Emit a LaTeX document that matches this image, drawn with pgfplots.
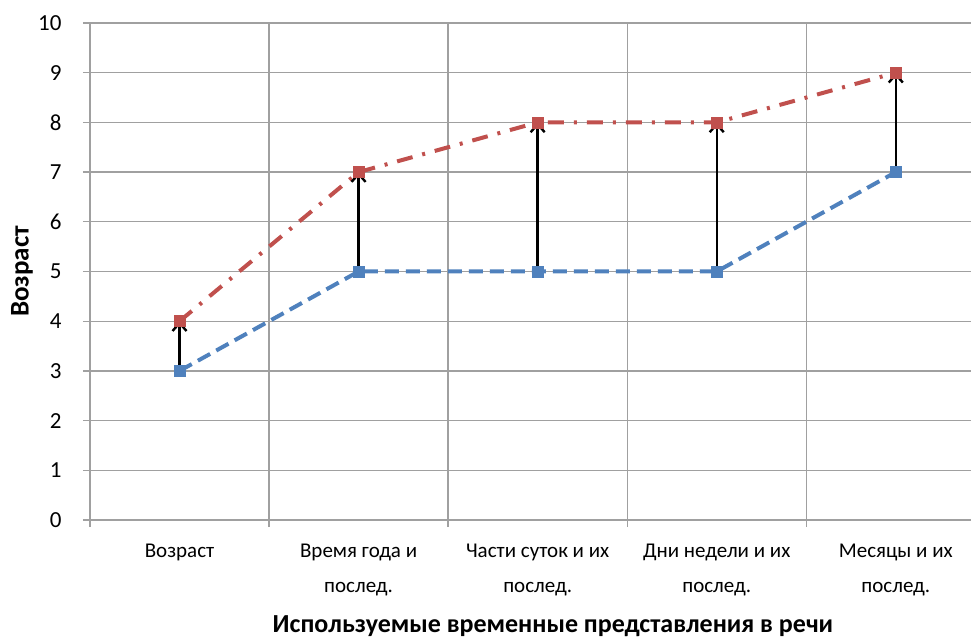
\documentclass[border=0pt]{standalone}
\usepackage{fontspec}
\setmainfont{Carlito}
\usepackage{pgfplots}
\pgfplotsset{compat=1.18}
\usetikzlibrary{arrows.meta}
\definecolor{xlblue}{RGB}{79,129,189}
\definecolor{xlred}{RGB}{192,80,77}
\definecolor{gridgray}{RGB}{160,160,160}

\pgfplotstableread{
x lo hi d
0 3 4 1
1 5 7 2
2 5 8 3
3 5 8 3
4 7 9 2
}\agedata

\begin{document}
\begin{tikzpicture}[x=1pt,y=1pt]
\path[use as bounding box] (0,0) rectangle (971,637);
\begin{axis}[
  at={(90pt,117pt)}, anchor=south west,
  scale only axis, width=881pt, height=497pt,
  xmin=-0.5, xmax=4.42,
  ymin=0, ymax=10,
  axis x line*=bottom, axis y line*=left,
  axis line style={gridgray, line width=1.3pt, -},
  % X
  xtick={0,1,2,3,4},
  xticklabels={{Возраст\\\vphantom{п}}, {Время года и\\послед.}, {Части суток и их\\послед.}, {Дни недели и их\\послед.}, {Месяцы и их\\послед.}},
  major x tick style={draw=none},
  minor xtick={-0.5,0.5,1.5,2.5,3.5},
  minor x tick style={gridgray, line width=1.3pt},
  xminorgrids=true,
  minor tick length=7pt,
  xticklabel style={align=center, font=\fontsize{21}{35}\selectfont, anchor=north, yshift=-13pt},
  % Y
  ytick={0,...,10},
  ymajorgrids=true,
  major y tick style={gridgray, line width=1.3pt},
  major tick length=7pt,
  tick align=outside,
  yticklabel style={font=\fontsize{23}{27}\selectfont, xshift=-18pt},
  /pgf/number format/assume math mode=true,
  grid style={gridgray, line width=1.3pt},
  ylabel={\bfseries Возраст},
  ylabel style={font=\fontsize{27}{31}\selectfont, at={(axis description cs:-0.0772,0.5)}, anchor=center},
  xlabel={\bfseries Используемые временные представления в речи},
  xlabel style={font=\fontsize{26}{30}\selectfont, at={(axis description cs:0.5255,0)}, anchor=north, yshift=-92pt},
  clip=false,
]
\addplot[xlblue, line width=4pt, dash pattern=on 14pt off 7pt,
  mark=square*, mark size=5.5pt, mark options={solid, line width=0.5pt}]
  table[x=x, y=lo] {\agedata};
\addplot[xlred, line width=4pt, dash pattern=on 16pt off 10pt on 3pt off 10pt,
  mark=square*, mark size=5.5pt, mark options={solid, line width=0.5pt}]
  table[x=x, y=hi] {\agedata};
\addplot[black, line width=2.4pt,
  quiver={u=0, v=\thisrow{d},
    every arrow/.append style={-{Straight Barb[length=8pt, width=14pt, line width=2.4pt]}}}]
  table[x=x, y=lo] {\agedata};
\end{axis}
\end{tikzpicture}
\end{document}
